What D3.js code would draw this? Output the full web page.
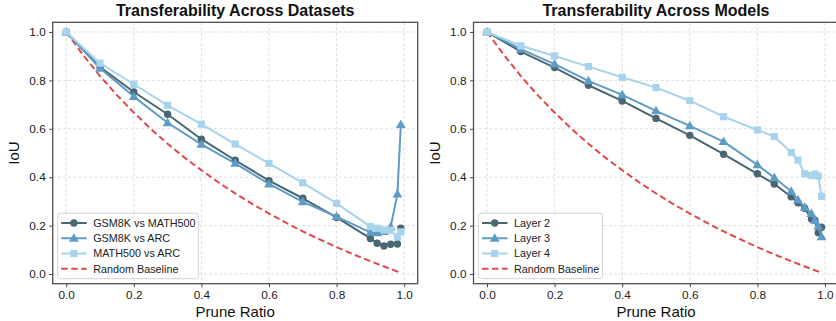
<!DOCTYPE html>
<html><head><meta charset="utf-8">
<script src="https://cdn.jsdelivr.net/npm/d3@7"></script>
<style>
html,body{margin:0;padding:0;background:#fff;}
svg{display:block;font-family:"Liberation Sans",Arial,sans-serif;}
</style></head>
<body><div id="chart"></div>
<script>
// ---------- data ----------
const xTicks = [0.0, 0.2, 0.4, 0.6, 0.8, 1.0];
const yTicks = [0.0, 0.2, 0.4, 0.6, 0.8, 1.0];
const tickLabels = ["0.0", "0.2", "0.4", "0.6", "0.8", "1.0"];

// Left panel: Transferability Across Datasets
const dsRatios = [0, 0.1, 0.2, 0.3, 0.4, 0.5, 0.6, 0.7, 0.8, 0.9, 0.92, 0.94, 0.96, 0.98, 0.99];
const gsmVsMath = [1.0, 0.855, 0.752, 0.660, 0.557, 0.470, 0.386, 0.313, 0.234, 0.147, 0.127, 0.116, 0.123, 0.124, 0.189];
const gsmVsArc  = [1.0, 0.850, 0.733, 0.625, 0.536, 0.457, 0.372, 0.298, 0.237, 0.172, 0.170, 0.175, 0.195, 0.330, 0.617];
const mathVsArc = [1.0, 0.871, 0.784, 0.697, 0.619, 0.537, 0.457, 0.377, 0.292, 0.196, 0.189, 0.182, 0.181, 0.153, 0.174];

// Right panel: Transferability Across Models
const mdRatios = [0, 0.1, 0.2, 0.3, 0.4, 0.5, 0.6, 0.7, 0.8, 0.85, 0.9, 0.92, 0.94, 0.96, 0.97, 0.98, 0.99];
const layer2 = [1.0, 0.919, 0.853, 0.780, 0.715, 0.643, 0.573, 0.495, 0.414, 0.372, 0.319, 0.294, 0.272, 0.227, 0.222, 0.171, 0.193];
const layer3 = [1.0, 0.929, 0.867, 0.798, 0.740, 0.674, 0.612, 0.547, 0.451, 0.398, 0.342, 0.306, 0.276, 0.250, 0.222, 0.197, 0.154];
const layer4 = [1.0, 0.943, 0.901, 0.857, 0.813, 0.770, 0.716, 0.650, 0.595, 0.568, 0.502, 0.471, 0.414, 0.407, 0.413, 0.405, 0.321];

// Random baseline
const baseRatios = [0, 0.05, 0.1, 0.15, 0.2, 0.25, 0.3, 0.35, 0.4, 0.45, 0.5, 0.55, 0.6, 0.65, 0.7, 0.75, 0.8, 0.85, 0.9, 0.95, 0.99];
const baseIoU    = [1.0, 0.905, 0.818, 0.739, 0.667, 0.600, 0.538, 0.481, 0.429, 0.379, 0.333, 0.290, 0.250, 0.212, 0.176, 0.143, 0.111, 0.081, 0.053, 0.026, 0.005];

const dsNames = ["GSM8K vs MATH500", "GSM8K vs ARC", "MATH500 vs ARC", "Random Baseline"];
const mdNames = ["Layer 2", "Layer 3", "Layer 4", "Random Baseline"];

// ---------- styles ----------
const C_DARK = "#486773", C_MID = "#5f9cc5", C_LIGHT = "#a7d3ec", C_RED = "#e34848";
const W = 836, H = 321;

const svg = d3.select("#chart").append("svg").attr("width", W).attr("height", H);

function zipPts(xs, ys){ return xs.map((x,i)=>({x, y: ys[i]})); }

function drawMarker(g, type, cx, cy, color){
  if(type==="circle"){
    g.append("circle").attr("cx",cx).attr("cy",cy).attr("r",3.7).attr("fill",color);
  } else if(type==="tri"){
    g.append("path").attr("d", d3.symbol().type(d3.symbolTriangle).size(42)())
      .attr("transform",`translate(${cx},${cy+0.6})`).attr("fill",color);
  } else if(type==="square"){
    const s = 7.2;
    g.append("rect").attr("x",cx-s/2).attr("y",cy-s/2).attr("width",s).attr("height",s).attr("fill",color);
  }
}

function panel(cfg){
  const g = svg.append("g");
  const x = d3.scaleLinear().domain([-0.04, 1.04]).range([cfg.left, cfg.left+365]);
  const y = d3.scaleLinear().domain([-0.04, 1.04]).range([283.7, 22.3]);

  const clipId = "clip"+cfg.id;
  svg.append("clipPath").attr("id",clipId).append("rect")
    .attr("x",x.range()[0]).attr("y",y.range()[1]).attr("width",365).attr("height",283.7-22.3);

  // grid
  const grid = g.append("g").attr("stroke","#d6d6d6").attr("stroke-width",0.8).attr("stroke-dasharray","3,2.2");
  xTicks.forEach(t=>grid.append("line").attr("x1",x(t)).attr("x2",x(t)).attr("y1",y.range()[1]).attr("y2",y.range()[0]));
  yTicks.forEach(t=>grid.append("line").attr("x1",x.range()[0]).attr("x2",x.range()[1]).attr("y1",y(t)).attr("y2",y(t)));

  const plot = g.append("g").attr("clip-path",`url(#${clipId})`);
  const line = d3.line().x(d=>x(d.x)).y(d=>y(d.y));

  plot.append("path").datum(zipPts(baseRatios, baseIoU)).attr("d",line)
    .attr("fill","none").attr("stroke",C_RED).attr("stroke-width",2).attr("stroke-dasharray","6.5,3.5");

  cfg.series.forEach(s=>{
    const pts = zipPts(cfg.xs, s.vals);
    plot.append("path").datum(pts).attr("d",line).attr("fill","none")
      .attr("stroke",s.color).attr("stroke-width",2).attr("stroke-linejoin","round");
    const mg = plot.append("g");
    pts.forEach(p=>drawMarker(mg, s.marker, x(p.x), y(p.y), s.color));
  });

  const xAxis = d3.axisBottom(x).tickValues(xTicks).tickFormat((d,i)=>tickLabels[i]).tickSize(3.5).tickPadding(3.5);
  const yAxis = d3.axisLeft(y).tickValues(yTicks).tickFormat((d,i)=>tickLabels[i]).tickSize(3.5).tickPadding(3.5);
  const gx = g.append("g").attr("transform",`translate(0,283.7)`).call(xAxis);
  const gy = g.append("g").attr("transform",`translate(${cfg.left},0)`).call(yAxis);
  [gx,gy].forEach(a=>{
    a.select(".domain").remove();
    a.selectAll(".tick line").attr("stroke","#333").attr("stroke-width",0.9);
    a.selectAll(".tick text").attr("fill","#222").style("font-size","11.8px").style("font-family","'Liberation Sans',Arial,sans-serif");
  });

  g.append("rect").attr("x",x.range()[0]).attr("y",22.3).attr("width",365).attr("height",283.7-22.3)
    .attr("fill","none").attr("stroke","#505050").attr("stroke-width",1.3);

  const cx = x.range()[0] + 365/2;
  g.append("text").attr("x",cx).attr("y",16.2).attr("text-anchor","middle")
    .style("font-size","16px").style("font-weight","bold").attr("fill","#111").text(cfg.title);
  g.append("text").attr("x",cx).attr("y",316.5).attr("text-anchor","middle")
    .style("font-size","15px").attr("fill","#111").text("Prune Ratio");
  g.append("text").attr("transform",`translate(${cfg.left-33.5},${(22.3+283.7)/2}) rotate(-90)`).attr("text-anchor","middle")
    .style("font-size","15px").attr("fill","#111").text("IoU");

  // legend
  const lg = g.append("g");
  const bx = cfg.left+5, by = 213.3, bw = cfg.legendW, bh = 65.4;
  lg.append("rect").attr("x",bx).attr("y",by).attr("width",bw).attr("height",bh).attr("rx",2.5)
    .attr("fill","#fff").attr("fill-opacity",0.85).attr("stroke","#cfcfcf").attr("stroke-width",0.9);
  const items = cfg.series.map(s=>({name:s.name,color:s.color,marker:s.marker,dash:null}))
    .concat([{name:cfg.baseName,color:C_RED,marker:null,dash:"6.5,3.5"}]);
  items.forEach((it,i)=>{
    const yy = 223 + i*15.25;
    lg.append("line").attr("x1",bx+3.5).attr("x2",bx+29).attr("y1",yy).attr("y2",yy)
      .attr("stroke",it.color).attr("stroke-width",2).attr("stroke-dasharray",it.dash);
    if(it.marker) drawMarker(lg, it.marker, bx+16.2, yy, it.color);
    lg.append("text").attr("x",bx+35.5).attr("y",yy+3.8).style("font-size","10.8px").attr("fill","#222").text(it.name);
  });
}

panel({
  id:"L", left:52.7, title:"Transferability Across Datasets", xs: dsRatios, legendW:140.6, baseName: dsNames[3],
  series:[
    {name:dsNames[0], vals:gsmVsMath, color:C_DARK, marker:"circle"},
    {name:dsNames[1], vals:gsmVsArc, color:C_MID, marker:"tri"},
    {name:dsNames[2], vals:mathVsArc, color:C_LIGHT, marker:"square"}
  ]
});
panel({
  id:"R", left:473.5, title:"Transferability Across Models", xs: mdRatios, legendW:124, baseName: mdNames[3],
  series:[
    {name:mdNames[0], vals:layer2, color:C_DARK, marker:"circle"},
    {name:mdNames[1], vals:layer3, color:C_MID, marker:"tri"},
    {name:mdNames[2], vals:layer4, color:C_LIGHT, marker:"square"}
  ]
});
</script></body></html>
